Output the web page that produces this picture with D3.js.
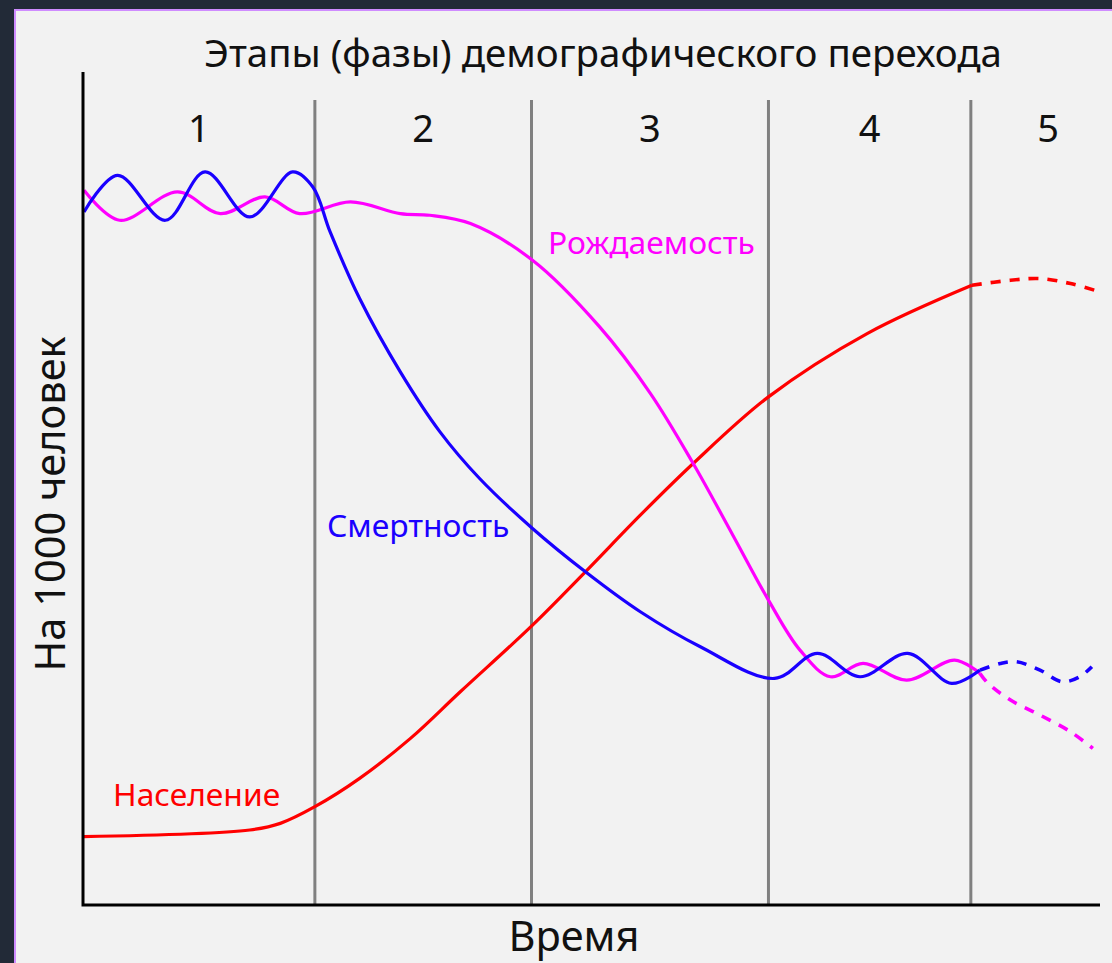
<!DOCTYPE html>
<html>
<head>
<meta charset="utf-8">
<script src="https://cdn.jsdelivr.net/npm/d3@7"></script>
<style>
  html, body { margin: 0; padding: 0; background: #222a37; }
  svg { display: block; }
  text { font-family: "Noto Sans", "Open Sans", sans-serif; }
</style>
</head>
<body>
<div id="chart"></div>
<script>
// phase boundaries (time units, 0..100)
var phaseBounds = [22.8, 44.1, 67.4, 87.3];
var phaseLabels = ['1', '2', '3', '4', '5'];

// death rate, per 1000
var deathX = [0.1, 3.4, 8.1, 12.0, 16.4, 20.6, 22.6, 24.3, 27.2, 31.2, 35.1, 39.0, 44.2, 49.4, 54.8, 60.7, 68.0, 72.2, 76.4, 81.1, 85.4, 88.2];
var deathY = [41.6, 43.8, 41.1, 44.0, 41.3, 44.0, 43.1, 40.4, 36.4, 32.0, 28.4, 25.6, 22.6, 20.0, 17.6, 15.5, 13.6, 15.1, 13.7, 15.1, 13.3, 14.1];
var deathFutX = [88.2, 90.2, 91.8, 94.1, 96.3, 98.0, 99.2];
var deathFutY = [14.1, 14.5, 14.6, 14.1, 13.4, 13.7, 14.3];

// birth rate, per 1000
var birthX = [0.1, 3.6, 9.3, 13.5, 17.9, 21.3, 26.3, 31.2, 34.1, 38.1, 44.2, 50.8, 55.8, 60.0, 63.9, 67.4, 70.5, 73.5, 76.7, 81.0, 85.7, 88.2];
var birthY = [42.9, 41.1, 42.8, 41.5, 42.5, 41.5, 42.2, 41.5, 41.4, 40.9, 38.7, 34.7, 30.7, 26.5, 22.2, 18.3, 15.3, 13.7, 14.5, 13.5, 14.7, 13.9];
var birthFutX = [88.2, 89.0, 91.2, 94.1, 97.1, 99.3];
var birthFutY = [13.9, 13.3, 12.3, 11.4, 10.4, 9.4];

// population
var popX = [0, 16.4, 19.4, 22.8, 27.2, 32.2, 37.1, 44.2, 49.4, 54.8, 60.0, 67.4, 77.1, 87.4];
var popY = [4.1, 4.5, 4.9, 5.9, 7.6, 10.0, 12.8, 16.8, 20.0, 23.4, 26.5, 30.5, 34.3, 37.2];
var popFutX = [87.4, 91.2, 94.1, 97.1, 100];
var popFutY = [37.2, 37.5, 37.6, 37.3, 36.8];

var W = 1112, H = 963;
var mLeft = 83, mRight = 1100, mTop = 72, mBottom = 905;

var svg = d3.select('#chart').append('svg')
  .attr('width', W)
  .attr('height', H);

// panel
svg.append('rect')
  .attr('x', 15).attr('y', 10)
  .attr('width', W).attr('height', H)
  .attr('fill', '#f2f2f2')
  .attr('stroke', '#cf8cff')
  .attr('stroke-width', 2);

var x = d3.scaleLinear().domain([0, 100]).range([mLeft, mRight]);
var y = d3.scaleLinear().domain([0, 50]).range([mBottom, mTop]);

var pts = function(xs, ys) { return xs.map(function(v, i) { return [v, ys[i]]; }); };

var line = d3.line()
  .x(function(d) { return x(d[0]); })
  .y(function(d) { return y(d[1]); })
  .curve(d3.curveCatmullRom.alpha(0.5));

// phase dividers
svg.append('g')
  .selectAll('line')
  .data(phaseBounds)
  .enter().append('line')
    .attr('x1', function(d) { return x(d); })
    .attr('x2', function(d) { return x(d); })
    .attr('y1', 100)
    .attr('y2', mBottom)
    .attr('stroke', '#808080')
    .attr('stroke-width', 3);

// phase numbers, centred in each phase
var edges = [0].concat(phaseBounds).concat([102.5]);
svg.append('g')
  .selectAll('text')
  .data(phaseLabels)
  .enter().append('text')
    .attr('x', function(d, i) { return x((edges[i] + edges[i + 1]) / 2); })
    .attr('y', 142)
    .attr('text-anchor', 'middle')
    .attr('font-size', 38)
    .attr('fill', '#111')
    .text(function(d) { return d; });

var series = [
  {data: pts(popX, popY), color: '#ff0000', dash: null},
  {data: pts(popFutX, popFutY), color: '#ff0000', dash: '10,9'},
  {data: pts(birthX, birthY), color: '#ff00ff', dash: null},
  {data: pts(birthFutX, birthFutY), color: '#ff00ff', dash: '10,9'},
  {data: pts(deathX, deathY), color: '#1a00ff', dash: null},
  {data: pts(deathFutX, deathFutY), color: '#1a00ff', dash: '10,9'}
];

svg.append('g')
  .selectAll('path')
  .data(series)
  .enter().append('path')
    .attr('d', function(d) { return line(d.data); })
    .attr('fill', 'none')
    .attr('stroke', function(d) { return d.color; })
    .attr('stroke-width', function(d) { return d.dash ? 3.6 : 3.2; })
    .attr('stroke-dasharray', function(d) { return d.dash; });

// axes
svg.append('path')
  .attr('d', 'M' + mLeft + ',' + mTop + 'V' + mBottom + 'H' + mRight)
  .attr('fill', 'none')
  .attr('stroke', '#000')
  .attr('stroke-width', 3);

// texts
svg.append('text')
  .attr('x', 603).attr('y', 67)
  .attr('text-anchor', 'middle')
  .attr('font-size', 38.5)
  .attr('fill', '#111')
  .text('Этапы (фазы) демографического перехода');

svg.append('text')
  .attr('x', 574).attr('y', 951)
  .attr('text-anchor', 'middle')
  .attr('font-size', 41.5)
  .attr('fill', '#111')
  .text('Время');

svg.append('text')
  .attr('transform', 'translate(65,504) rotate(-90)')
  .attr('text-anchor', 'middle')
  .attr('font-size', 41.5)
  .attr('fill', '#111')
  .text('На 1000 человек');

var labels = [
  {t: 'Рождаемость', x: 548, y: 254, c: '#ff00ff'},
  {t: 'Смертность', x: 327, y: 537, c: '#1a00ff'},
  {t: 'Население', x: 113, y: 806, c: '#ff0000'}
];
svg.append('g')
  .selectAll('text')
  .data(labels)
  .enter().append('text')
    .attr('x', function(d) { return d.x; })
    .attr('y', function(d) { return d.y; })
    .attr('font-size', 31.8)
    .attr('fill', function(d) { return d.c; })
    .text(function(d) { return d.t; });
</script>
</body>
</html>
